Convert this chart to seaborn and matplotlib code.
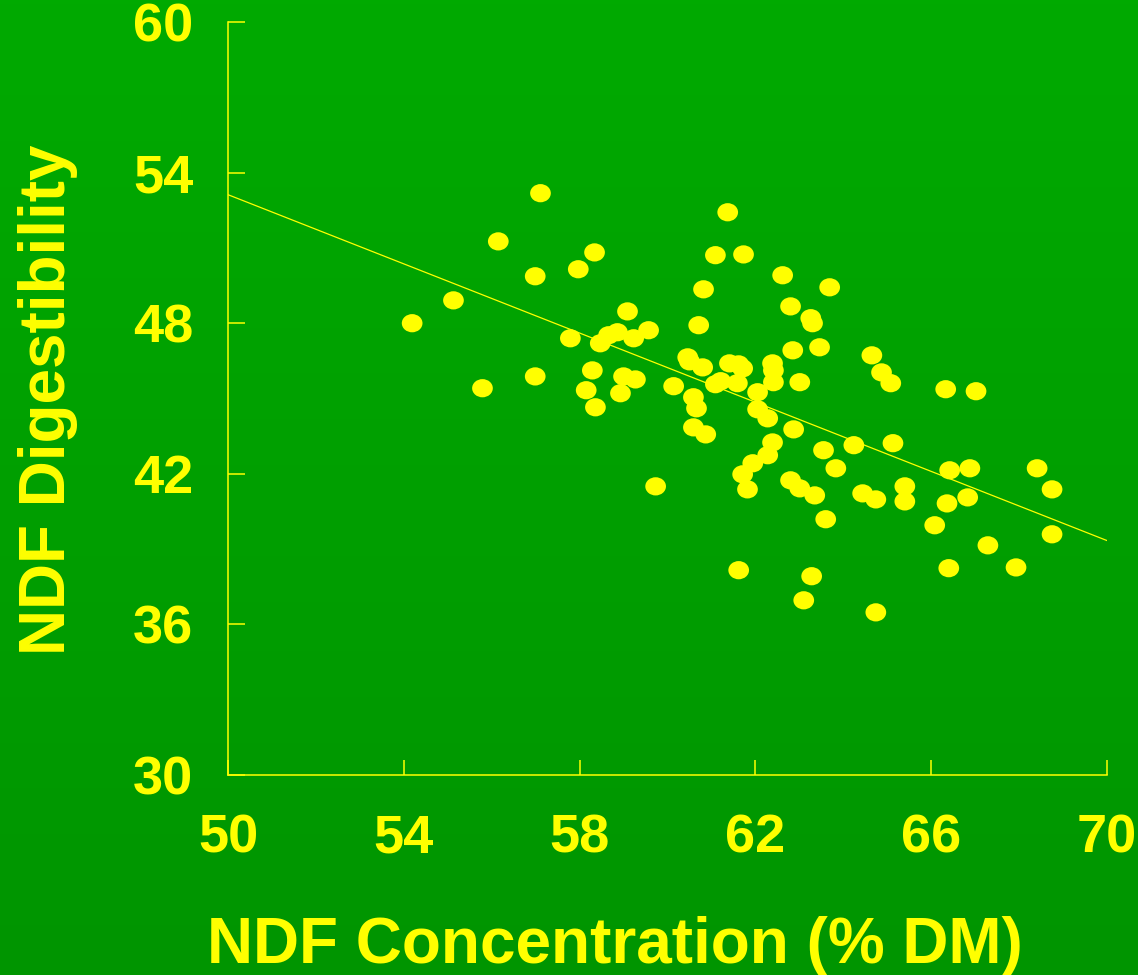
import numpy as np
import pandas as pd
import matplotlib
matplotlib.use("Agg")
import matplotlib.pyplot as plt
from matplotlib.path import Path
import seaborn as sns

# ---- data ----
ndf_conc = [54.19, 55.13, 55.79, 56.15, 56.99, 56.99, 57.11, 57.97, 57.79, 58.15,
            58.29, 58.36, 58.34, 58.47, 58.66, 58.86, 58.93, 59.00, 59.09, 59.27,
            59.23, 59.57, 59.73, 60.14, 60.46, 60.50, 60.59, 60.66, 60.59, 60.71,
            60.82, 60.80, 60.87, 61.09, 61.09, 61.21, 61.37, 61.41, 61.62, 61.71,
            61.59, 61.62, 61.71, 61.73, 61.82, 61.94, 62.05, 62.05, 62.28, 62.28,
            62.39, 62.41, 62.41, 62.39, 62.62, 62.80, 62.80, 62.85, 62.87, 63.01,
            63.01, 63.10, 63.26, 63.30, 63.35, 63.28, 63.46, 63.55, 63.60, 63.69,
            63.83, 64.24, 64.44, 64.74, 64.74, 64.65, 64.87, 65.08, 65.13, 65.40,
            65.40, 66.08, 66.33, 66.36, 66.42, 66.40, 66.88, 66.83, 67.02, 67.29,
            67.93, 68.41, 68.75, 68.75]
ndf_dig = [48.00, 48.91, 45.41, 51.26, 49.87, 45.88, 53.18, 50.15, 47.40, 45.33,
           46.12, 44.65, 50.82, 47.20, 47.52, 47.64, 45.21, 45.88, 48.47, 45.76,
           47.40, 47.72, 41.50, 45.49, 46.64, 46.48, 45.05, 44.61, 43.85, 47.92,
           49.35, 46.24, 43.57, 50.71, 45.57, 45.69, 52.42, 46.40, 46.36, 46.20,
           45.61, 38.16, 41.98, 50.74, 41.38, 42.42, 45.25, 44.57, 44.21, 42.74,
           46.40, 46.12, 45.65, 43.25, 49.91, 41.74, 48.67, 46.92, 43.77, 45.65,
           41.42, 36.96, 48.20, 48.00, 41.14, 37.92, 47.04, 42.94, 40.19, 49.43,
           42.22, 43.14, 41.22, 40.98, 36.48, 46.72, 46.04, 45.61, 43.22, 41.50,
           40.90, 39.95, 45.37, 40.82, 42.14, 38.24, 42.22, 41.06, 45.29, 39.15,
           38.27, 42.22, 41.38, 39.59]
fit_x = [50, 70]
fit_y = [53.12, 39.34]
x_ticks = [50, 54, 58, 62, 66, 70]
y_ticks = [30, 36, 42, 48, 54, 60]
x_label = "NDF Concentration (% DM)"
y_label = "NDF Digestibility"

YELLOW = "#FFFF00"
FONT = ["Liberation Sans", "DejaVu Sans"]

sns.set_theme(style="white")
plt.rcParams["font.family"] = FONT

W, H = 1138, 975
fig = plt.figure(figsize=(W / 100, H / 100), dpi=100)

# background vertical gradient
bg = fig.add_axes([0, 0, 1, 1], zorder=-10)
top = np.array([0x00, 0xAA, 0x00]) / 255
bot = np.array([0x00, 0x95, 0x00]) / 255
t = np.linspace(0, 1, 256)[:, None]
grad = top[None, :] * (1 - t) + bot[None, :] * t
bg.imshow(grad[:, None, :], aspect="auto", extent=[0, 1, 0, 1])
bg.set_axis_off()

ax = fig.add_axes([228 / W, 1 - 775 / H, (1107 - 228) / W, (775 - 22) / H])
ax.set_facecolor("none")

df = pd.DataFrame({"conc": ndf_conc, "dig": ndf_dig})
circ = Path.unit_circle()
ellipse = Path(circ.vertices * np.array([1.0, 0.88]), circ.codes)
sns.scatterplot(data=df, x="conc", y="dig", ax=ax, color=YELLOW,
                marker=ellipse, s=222, edgecolor="none", linewidth=0,
                zorder=3, clip_on=False)
sns.lineplot(x=fit_x, y=fit_y, ax=ax, color=YELLOW, linewidth=0.9, zorder=2)

ax.set_xlim(50, 70)
ax.set_ylim(30, 60)
ax.set_xticks(x_ticks)
ax.set_yticks(y_ticks)
ax.set_xlabel("")
ax.set_ylabel("")

for side in ["top", "right"]:
    ax.spines[side].set_visible(False)
for side in ["left", "bottom"]:
    ax.spines[side].set_visible(True)
    ax.spines[side].set_color(YELLOW)
    ax.spines[side].set_linewidth(1.1)

ax.tick_params(axis="x", direction="in", length=11, width=1.1, color=YELLOW,
               labelcolor=YELLOW, labelsize=39, pad=28, bottom=True)
ax.tick_params(axis="y", direction="in", length=12.5, width=1.1, color=YELLOW,
               labelcolor=YELLOW, labelsize=39, pad=25, left=True)
for lab in ax.get_xticklabels() + ax.get_yticklabels():
    lab.set_fontweight("bold")
    lab.set_family(FONT)
for lab in ax.get_yticklabels():
    lab.set_y(lab.get_position()[1])

fig.text(615 / W, 1 - 963 / H, x_label, ha="center", va="baseline",
         fontsize=46, fontweight="bold", color=YELLOW, family=FONT)
fig.text(65 / W, 1 - 400 / H, y_label, ha="center", va="baseline",
         rotation=90, rotation_mode="anchor",
         fontsize=46, fontweight="bold", color=YELLOW, family=FONT)

fig.savefig("out.png", dpi=100)
